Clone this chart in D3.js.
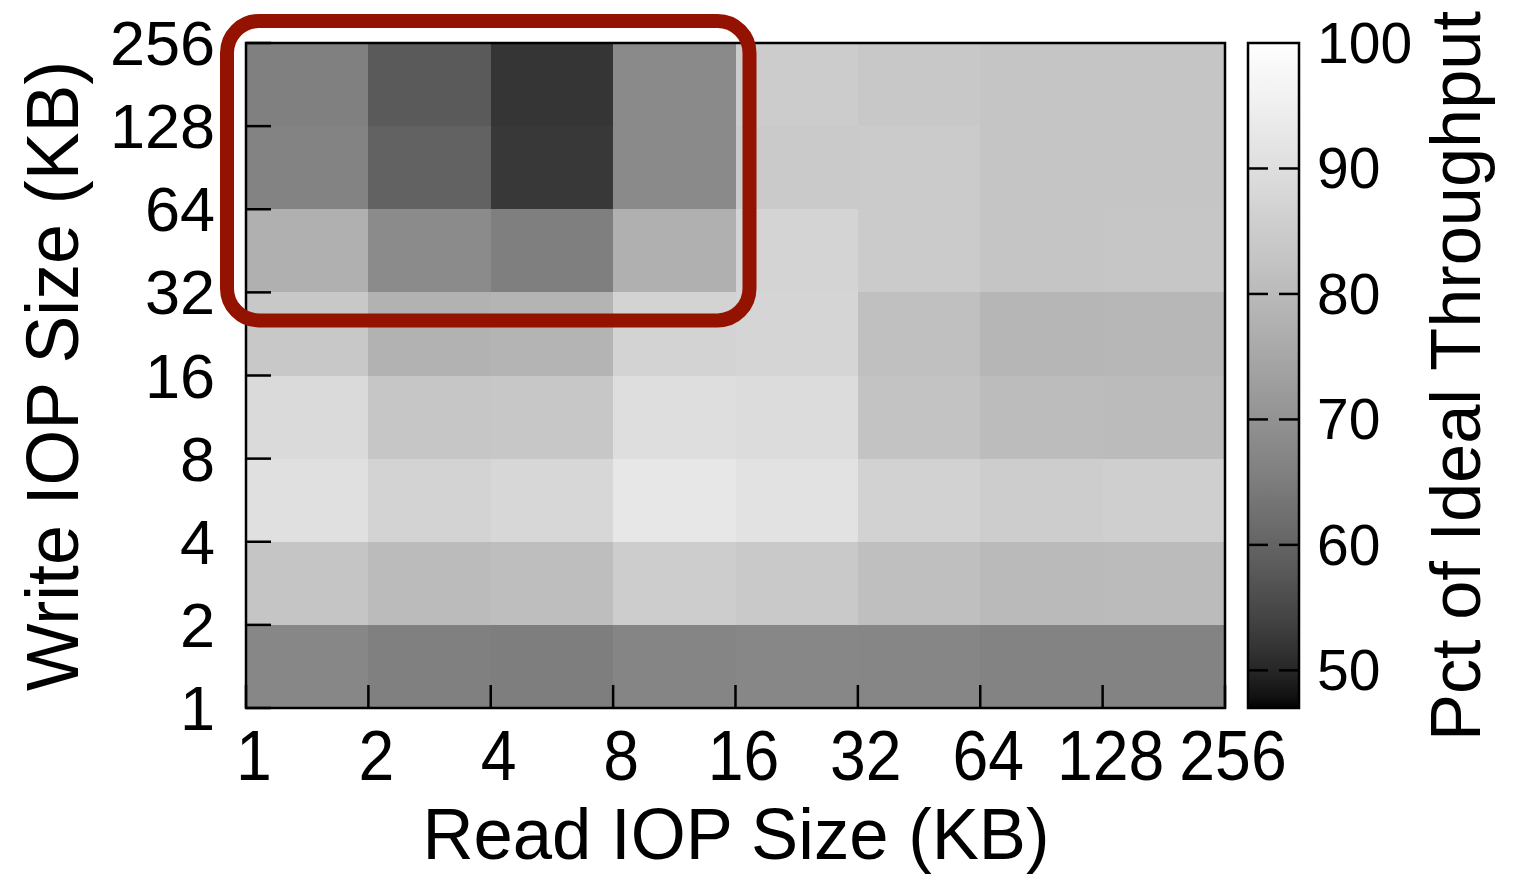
<!DOCTYPE html>
<html>
<head>
<meta charset="utf-8">
<script src="https://cdn.jsdelivr.net/npm/d3@7"></script>
<style>
  html, body { margin: 0; padding: 0; background: #fff; }
  svg { display: block; }
  text { font-family: "Liberation Sans", Arial, Helvetica, sans-serif; fill: #000; }
</style>
</head>
<body>
<svg id="chart" width="1521" height="876"></svg>
<script>
// IOP size boundaries (KB) used as tick labels on both axes
const readSizes  = [1, 2, 4, 8, 16, 32, 64, 128, 256];
const writeSizes = [1, 2, 4, 8, 16, 32, 64, 128, 256];

// Percent of ideal throughput; one array per write size bucket,
// each listing read size buckets 1-2, 2-4, ..., 128-256 KB
const write128 = [65.8, 58.1, 52.0, 68.1, 84.9, 83.8, 83.0, 83.0];
const write64  = [66.5, 59.6, 52.5, 68.1, 84.4, 84.6, 83.0, 83.0];
const write32  = [77.4, 68.3, 65.6, 77.4, 87.2, 84.6, 83.0, 83.2];
const write16  = [83.8, 77.9, 78.4, 86.9, 87.4, 81.6, 79.0, 79.2];
const write8   = [88.9, 83.3, 83.5, 90.1, 89.5, 82.4, 80.5, 80.3];
const write4   = [90.6, 86.9, 88.0, 92.7, 91.2, 86.6, 85.2, 85.8];
const write2   = [83.0, 80.3, 81.1, 85.2, 84.1, 81.4, 80.0, 80.3];
const write1   = [67.4, 65.8, 65.4, 67.0, 67.4, 67.2, 66.5, 66.5];

const rowsByWrite = [write1, write2, write4, write8, write16, write32, write64, write128];

// colour bar range and its labelled ticks
const cbRange = [47, 100];
const cbTicks = [50, 60, 70, 80, 90, 100];

const svg = d3.select("#chart");

const plot = { left: 246, right: 1225, top: 43, bottom: 708 };

const x = d3.scaleLog().base(2).domain([1, 256]).range([plot.left, plot.right]);
const y = d3.scaleLog().base(2).domain([1, 256]).range([plot.bottom, plot.top]);

// grey palette: normalised value raised to 1/gamma (gamma = 1.5)
const norm = d3.scaleLinear().domain(cbRange).range([0, 1]).clamp(true);
const gamma = 1.5;
const grey = v => {
  const g = Math.round(255 * Math.pow(norm(v), 1 / gamma));
  return d3.rgb(g, g, g).toString();
};

// heat map cells
const cells = [];
rowsByWrite.forEach((row, i) => {
  const w = writeSizes[i];
  row.forEach((v, j) => {
    cells.push({ r: readSizes[j], w, v });
  });
});

svg.append("g")
  .selectAll("rect")
  .data(cells)
  .join("rect")
  .attr("x", d => x(d.r))
  .attr("y", d => y(d.w * 2))
  .attr("width", d => x(d.r * 2) - x(d.r))
  .attr("height", d => y(d.w) - y(d.w * 2))
  .attr("fill", d => grey(d.v))
  .attr("shape-rendering", "crispEdges");

// inward ticks on the bottom and left edges
const axes = svg.append("g").attr("stroke", "#000").attr("stroke-width", 2.5);
axes.selectAll("line.xt")
  .data(readSizes)
  .join("line")
  .attr("class", "xt")
  .attr("x1", d => x(d)).attr("x2", d => x(d))
  .attr("y1", plot.bottom).attr("y2", plot.bottom - 23);
axes.selectAll("line.yt")
  .data(writeSizes)
  .join("line")
  .attr("class", "yt")
  .attr("x1", plot.left).attr("x2", plot.left + 25)
  .attr("y1", d => y(d)).attr("y2", d => y(d));

// frame
svg.append("rect")
  .attr("x", plot.left).attr("y", plot.top)
  .attr("width", plot.right - plot.left).attr("height", plot.bottom - plot.top)
  .attr("fill", "none").attr("stroke", "#000").attr("stroke-width", 2.5);

// x tick labels (slightly condensed)
svg.append("g")
  .selectAll("text")
  .data(readSizes)
  .join("text")
  .attr("transform", d => `translate(${x(d) + 8},780) scale(0.92,1)`)
  .attr("text-anchor", "middle")
  .attr("font-size", 70)
  .text(d => d);

// y tick labels
svg.append("g")
  .selectAll("text")
  .data(writeSizes)
  .join("text")
  .attr("x", 215)
  .attr("y", d => y(d) + 22)
  .attr("text-anchor", "end")
  .attr("font-size", 63)
  .text(d => d);

// axis titles
svg.append("text")
  .attr("x", 736).attr("y", 859)
  .attr("text-anchor", "middle")
  .attr("font-size", 72)
  .attr("textLength", 627).attr("lengthAdjust", "spacingAndGlyphs")
  .text("Read IOP Size (KB)");

svg.append("text")
  .attr("transform", "translate(78,376) rotate(-90)")
  .attr("text-anchor", "middle")
  .attr("font-size", 74)
  .attr("textLength", 630).attr("lengthAdjust", "spacingAndGlyphs")
  .text("Write IOP Size (KB)");

// colour bar
const cb = { left: 1248, right: 1299 };
const cbY = d3.scaleLinear().domain(cbRange).range([plot.bottom, plot.top]);

const grad = svg.append("defs").append("linearGradient")
  .attr("id", "cbGrad")
  .attr("x1", 0).attr("y1", 1).attr("x2", 0).attr("y2", 0);
const nStops = 60;
grad.selectAll("stop")
  .data(d3.range(nStops + 1))
  .join("stop")
  .attr("offset", i => i / nStops)
  .attr("stop-color", i => grey(cbRange[0] + (cbRange[1] - cbRange[0]) * i / nStops));

svg.append("rect")
  .attr("x", cb.left).attr("y", plot.top)
  .attr("width", cb.right - cb.left).attr("height", plot.bottom - plot.top)
  .attr("fill", "url(#cbGrad)")
  .attr("stroke", "#000").attr("stroke-width", 2.5);

const cbTickG = svg.append("g").attr("stroke", "#000").attr("stroke-width", 2.5);
cbTickG.selectAll("line.l")
  .data(cbTicks.filter(t => t < cbRange[1]))
  .join("line").attr("class", "l")
  .attr("x1", cb.left).attr("x2", cb.left + 20)
  .attr("y1", d => cbY(d)).attr("y2", d => cbY(d));
cbTickG.selectAll("line.r")
  .data(cbTicks.filter(t => t < cbRange[1]))
  .join("line").attr("class", "r")
  .attr("x1", cb.right - 20).attr("x2", cb.right)
  .attr("y1", d => cbY(d)).attr("y2", d => cbY(d));

svg.append("g")
  .selectAll("text")
  .data(cbTicks)
  .join("text")
  .attr("x", 1317)
  .attr("y", d => cbY(d) + 20)
  .attr("font-size", 57)
  .text(d => d);

svg.append("text")
  .attr("transform", "translate(1480,376) rotate(-90)")
  .attr("text-anchor", "middle")
  .attr("font-size", 71)
  .attr("textLength", 730).attr("lengthAdjust", "spacingAndGlyphs")
  .text("Pct of Ideal Throughput");

// highlight around small-read / large-write region
const hx0 = x(1) - 19, hx1 = x(16) + 14;
const hy0 = y(256) - 22, hy1 = y(32) + 28;
svg.append("rect")
  .attr("x", hx0).attr("y", hy0)
  .attr("width", hx1 - hx0).attr("height", hy1 - hy0)
  .attr("rx", 32).attr("ry", 32)
  .attr("fill", "none")
  .attr("stroke", "#941200")
  .attr("stroke-width", 14);
</script>
</body>
</html>
